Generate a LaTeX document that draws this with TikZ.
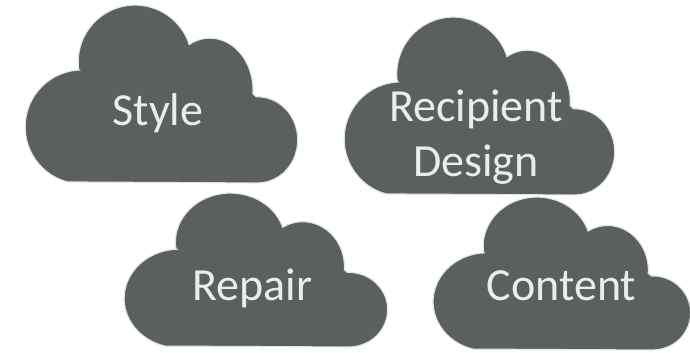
\documentclass[tikz,border=0pt]{standalone}
\usepackage{fontspec}
\setmainfont{Carlito}
\definecolor{cloudgray}{RGB}{90,96,92}
\definecolor{cloudline}{RGB}{228,228,226}
\definecolor{cloudtext}{RGB}{236,236,236}
\tikzset{
  cloudfill/.style={fill=cloudgray, draw=cloudline, line width=1.1pt, line join=round},
  cloudlabel/.style={text=cloudtext, inner sep=0pt, font=\fontsize{46}{55}\selectfont, align=center}
}
\newcommand\mycloud[4]{%
  \begin{scope}[shift={(#1,#2)}, x=#3pt, y=#4pt]
    \path[cloudfill] (0.160,0.006)
      arc[start angle=255, end angle=92, x radius=0.210, y radius=0.320]
      -- (0.202,0.635)
      arc[start angle=188, end angle=21, x radius=0.210, y radius=0.320]
      -- (0.609,0.777)
      arc[start angle=119, end angle=-4, x radius=0.159, y radius=0.292]
      -- (0.857,0.484)
      arc[start angle=92, end angle=-90, x radius=0.148, y radius=0.242]
      -- cycle;
  \end{scope}}
\begin{document}
\begin{tikzpicture}[x=1pt, y=-1pt]
  \useasboundingbox (0,0) rectangle (690,353);
  \mycloud{24}{183}{271}{178}
  \mycloud{343}{195}{269}{178}
  \mycloud{123}{347}{262}{154}
  \mycloud{432}{350}{256}{153}
  \node[cloudlabel, anchor=base] (style) at (158,125) {Style};
  \node[cloudlabel] (recipient) at (476,137.5) {Recipient\\Design};
  \node[cloudlabel, anchor=base] (repair) at (252.5,300) {Repair};
  \node[cloudlabel, anchor=base] (content) at (561.5,300) {Content};
\end{tikzpicture}
\end{document}
